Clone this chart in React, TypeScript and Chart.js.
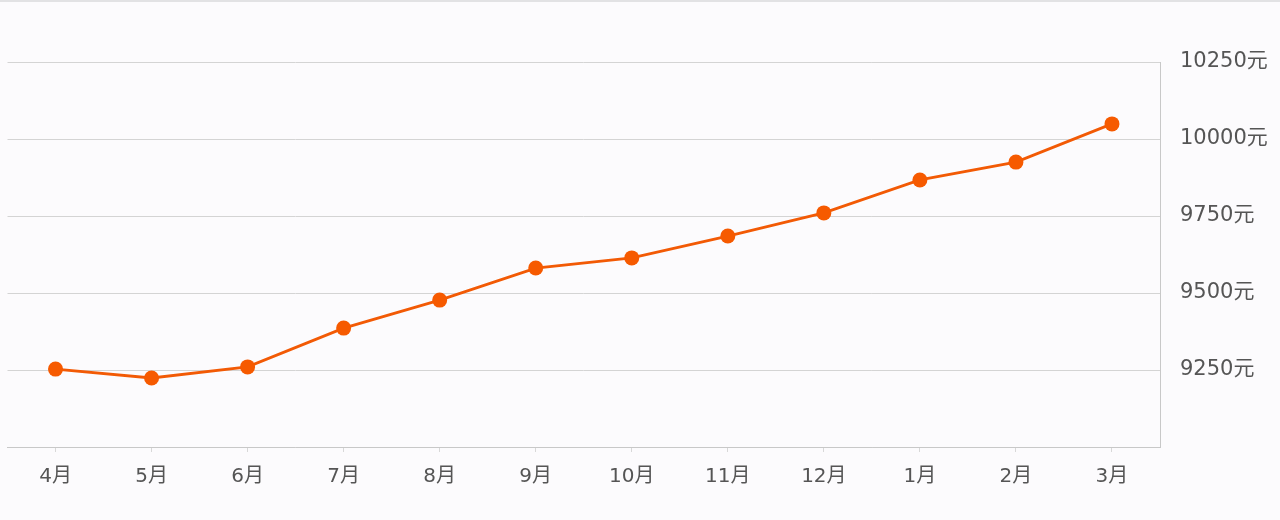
import React, { useEffect, useRef } from "react";
import { Chart, registerables } from "chart.js";

Chart.register(...registerables);

const months = ["4月", "5月", "6月", "7月", "8月", "9月", "10月", "11月", "12月", "1月", "2月", "3月"];
const prices = [9253, 9224, 9260, 9386, 9477, 9581, 9614, 9685, 9760, 9867, 9925, 10049];
const yMin = 9000;
const yMax = 10250;
const yStep = 250;
const unit = "元";

const fontFamily = "'DejaVu Sans', 'Noto Sans CJK SC', sans-serif";

export default function App() {
  const ref = useRef<HTMLCanvasElement | null>(null);

  useEffect(() => {
    document.body.style.margin = "0";
    const ctx = ref.current!;
    const chart = new Chart(ctx, {
      type: "line",
      data: {
        labels: months,
        datasets: [
          {
            data: prices,
            borderColor: "#f25a05",
            backgroundColor: "#f65a00",
            pointBackgroundColor: "#f65a00",
            pointBorderColor: "#f65a00",
            borderWidth: 2.8,
            pointRadius: 7.5,
            pointBorderWidth: 0,
            tension: 0,
          },
        ],
      },
      options: {
        animation: false,
        responsive: false,
        maintainAspectRatio: false,
        layout: { padding: { top: 60, left: 0, right: 0, bottom: 0 } },
        plugins: { legend: { display: false }, tooltip: { enabled: false } },
        scales: {
          x: {
            offset: true,
            grid: {
              display: true,
              drawOnChartArea: false,
              drawTicks: true,
              tickLength: 5,
              color: "#d8d8d8",
              offset: false,
            },
            border: { display: true, color: "#c8c8c8", width: 1 },
            ticks: {
              color: "#555",
              padding: 13,
              font: { family: fontFamily, size: 20 },
            },
            afterFit: (s: any) => {
              s.height = 73;
              s.paddingLeft = 0;
              s.paddingRight = 0;
            },
          },
          y: {
            position: "right",
            min: yMin,
            max: yMax,
            grid: { color: "#d4d4d4", drawTicks: false, lineWidth: 1 },
            border: { display: true, color: "#c8c8c8", width: 1 },
            ticks: {
              stepSize: yStep,
              padding: 20,
              color: "#555",
              font: { family: fontFamily, size: 21 },
              callback: (v: any) => (Number(v) === yMin ? "" : `${v}${unit}`),
            },
            afterFit: (s: any) => {
              s.width = 120;
            },
          },
        },
      },
    });
    return () => chart.destroy();
  }, []);

  return (
    <div
      style={{
        position: "fixed",
        left: 0,
        top: 0,
        width: 1280,
        height: 520,
        background: "#fcfbfd",
        borderTop: "2px solid #e2e2e4",
        boxSizing: "border-box",
      }}
    >
      <canvas ref={ref} width={1280} height={518} style={{ display: "block" }} />
    </div>
  );
}
